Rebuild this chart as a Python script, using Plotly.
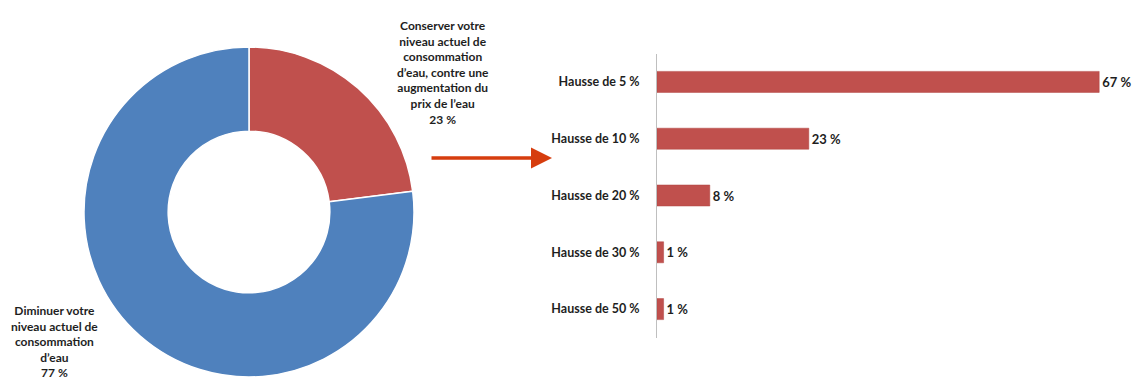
import plotly.graph_objects as go

pie_labels = ["Conserver votre niveau actuel de consommation d'eau, contre une augmentation du prix de l'eau",
              "Diminuer votre niveau actuel de consommation d'eau"]
pie_values = [23, 77]
pie_colors = ["#C0504D", "#4F81BD"]

bar_cats = ["Hausse de 5 %", "Hausse de 10 %", "Hausse de 20 %", "Hausse de 30 %", "Hausse de 50 %"]
bar_values = [67, 23, 8, 1, 1]
bar_text = ["67 %", "23 %", "8 %", "1 %", "1 %"]

W, H = 1139, 381
FONT = "Lato"
TXT = "#1E1E1E"

fig = go.Figure()

fig.add_trace(go.Pie(
    labels=pie_labels, values=pie_values, hole=0.49, sort=False,
    direction="clockwise", rotation=0, textinfo="none",
    marker=dict(colors=pie_colors, line=dict(color="white", width=1.5)),
    domain=dict(x=[84 / W, 414 / W], y=[1 - 377 / H, 1 - 47 / H]),
    showlegend=False, hoverinfo="label+percent",
))

fig.add_trace(go.Bar(
    y=bar_cats, x=bar_values, orientation="h", text=bar_text,
    textposition="outside", cliponaxis=False,
    textfont=dict(family=FONT, size=13, color=TXT, weight="bold"),
    marker=dict(color="#C0504D", line=dict(color="#B04541", width=0.5)),
    width=0.37, showlegend=False, xaxis="x", yaxis="y",
))

fig.update_layout(
    width=W, height=H, margin=dict(l=0, r=0, t=0, b=0),
    paper_bgcolor="white", plot_bgcolor="white",
    font=dict(family=FONT, color=TXT),
    xaxis=dict(domain=[657 / W, 1119 / W], range=[0, 70], visible=False, fixedrange=True),
    yaxis=dict(domain=[1 - 337.5 / H, 1 - 53.5 / H], autorange="reversed",
               categoryorder="array", categoryarray=bar_cats,
               showline=True, linecolor="#BFBFBF", linewidth=1,
               ticks="", ticklabelstandoff=14, showgrid=False,
               tickfont=dict(family=FONT, size=12.5, color=TXT, weight="bold")),
)

fig.add_annotation(
    x=443 / W, y=1 - 16 / H, xref="paper", yref="paper", xanchor="center", yanchor="top",
    text="Conserver votre<br>niveau actuel de<br>consommation<br>d’eau, contre une<br>augmentation du<br>prix de l’eau<br>23 %",
    showarrow=False, align="center",
    font=dict(family=FONT, size=12, color=TXT, weight="bold"),
)
fig.add_annotation(
    x=54 / W, y=1 - 301 / H, xref="paper", yref="paper", xanchor="center", yanchor="top",
    text="Diminuer votre<br>niveau actuel de<br>consommation<br>d’eau<br>77 %",
    showarrow=False, align="center",
    font=dict(family=FONT, size=12, color=TXT, weight="bold"),
)
fig.add_annotation(
    x=552 / W, y=1 - 158 / H, ax=-122, ay=0,
    xref="paper", yref="paper", axref="pixel", ayref="pixel",
    text="", showarrow=True, arrowhead=2, arrowsize=1.2, arrowwidth=3.5, arrowcolor="#D63D0E",
)

fig.write_html("out.html")
